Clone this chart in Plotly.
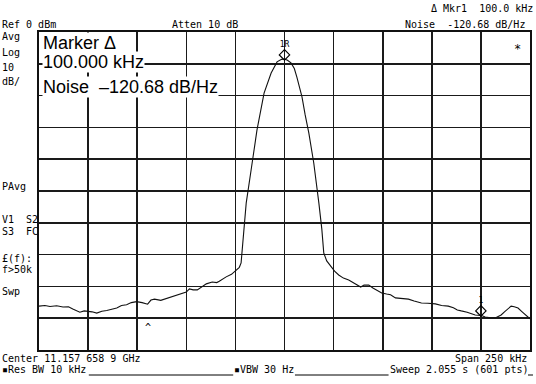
import plotly.graph_objects as go

# ---- data (offset from centre, kHz ; level, dBm) ----
freq_khz = [-125, -122, -119.4, -116, -112.8, -110, -107.8, -105.5, -104.2, -102, -100.2, -98,
            -95.6, -93, -90.5, -88, -85.4, -83, -80.4, -78, -75.3, -72.5, -69.7, -68, -66.2,
            -63, -60.5, -58.6, -55, -52.0, -50, -48.4, -46.5, -44.4, -42, -39.8, -36.8, -34.5,
            -33.2, -31, -29.7, -27, -24.6, -23, -22.1, -21.6, -20.5, -19.5, -17.0, -14.0, -10.4,
            -6.8, -3.8, -1.5, 0, 1.5, 3.3, 5, 6.3, 8.9, 10.5, 12.4, 14.9, 15.9, 17.5, 19, 20.0,
            21.5, 23.6, 25.5, 27.6, 30, 32.7, 35, 38.8, 40.5, 42.9, 45, 47, 49.5, 52, 54, 56.5,
            60, 63.1, 66, 69.7, 73, 76.8, 80, 83.4, 86, 88, 90.0, 93, 97.1, 100, 102.2, 105,
            107.3, 110.3, 112, 114, 115.4, 117, 118.9, 121, 123, 125]
level_dbm = [-86.2, -86.0, -86.3, -86.1, -86.5, -86.4, -87.1, -87.9, -88.1, -87.7, -87.8, -88.0,
             -88.4, -87.8, -87.6, -87.2, -86.8, -86.0, -85.8, -85.1, -84.8, -85.1, -85.6, -84.3, -84.0,
             -84.4, -83.9, -83.6, -82.9, -82.1, -81.8, -80.8, -81.1, -81.1, -80.2, -79.2, -78.6, -78.8,
             -78.4, -77.5, -77.0, -76.2, -74.8, -74.0, -72.6, -68.6, -62.0, -53.8, -43.4, -30.8, -19.2,
             -12.9, -9.4, -8.6, -8.5, -8.9, -9.7, -11.5, -14.2, -20.4, -26.0, -31.8, -41.2, -45.6, -53.8, -62.0, -69.5,
             -72.0, -73.9, -75.2, -76.4, -77.4, -78.0, -78.9, -80.2, -79.6, -79.6, -80.5, -81.3, -82.1, -82.4, -82.6, -83.6,
             -83.8, -84.0, -84.6, -85.2, -85.3, -85.5, -86.0, -86.2, -86.7, -87.4, -87.7, -88.1, -89.0, -89.1, -89.6, -89.9,
             -89.9, -89.0, -88.0, -86.8, -86.2, -86.4, -86.8, -88.0, -89.2, -90.2]

marker_khz = [0, 100]
marker_dbm = [-7.2, -87.7]
marker_labels = ["1R", "1"]

x_range = [-125, 125]
y_range = [-100, 0]

# ---- figure geometry helpers (pixels -> paper) ----
L, R, T, B = 39, 532, 32, 350
def px(x):
    return (x - L) / (R - L)
def py(y):
    return (B - y) / (B - T)

MONO = "DejaVu Sans Mono"
SANS = "Liberation Sans"

fig = go.Figure()
fig.add_trace(go.Scatter(x=freq_khz, y=level_dbm, mode="lines",
                         line=dict(color="#111111", width=1.1), hoverinfo="skip"))
fig.add_trace(go.Scatter(x=marker_khz, y=marker_dbm, mode="markers+text",
                         text=marker_labels, textposition="top center",
                         textfont=dict(family=MONO, size=8, color="#000000"),
                         marker=dict(symbol="diamond-open", size=8, color="#000000",
                                     line=dict(width=1.2, color="#000000")),
                         hoverinfo="skip"))

ann = []
def text(s, x, y, anchor="left", size=10, family=MONO, bg=None):
    d = dict(text=s, x=px(x), y=py(y), xref="paper", yref="paper", showarrow=False,
             xanchor=anchor, yanchor="middle", font=dict(family=family, size=size, color="black"),
             borderpad=0)
    if bg:
        d["bgcolor"] = bg
    ann.append(d)

text("Ref 0 dBm", 1, 24)
text("Atten 10 dB", 172, 24)
text("Δ Mkr1  100.0 kHz", 536, 9, anchor="right")
text("Noise  -120.68 dB/Hz", 528, 24.5, anchor="right")
text("Avg", 1, 36.5)
text("Log", 1, 52.5)
text("10", 1, 67)
text("dB/", 1, 82)
text("PAvg", 1, 186)
text("V1  S2", 1, 219)
text("S3  FC", 1, 231)
text("£(f):", 1, 258)
text("f>50k", 1, 269)
text("Swp", 1, 291)
text("Center 11.157 658 9 GHz", 1, 358)
text("Span 250 kHz", 530, 358, anchor="right")
text("▪Res BW 10 kHz", 1, 369)
text("▪VBW 30 Hz", 234, 369)
text("Sweep 2.055 s (601 pts)", 390, 369)
text("*", 519, 49, anchor="center", size=12)
text("^", 148, 327, anchor="center", size=10)

text("Marker Δ", 42, 43, size=18, family=SANS, bg="white")
text("100.000 kHz", 42, 61.5, size=18, family=SANS, bg="white")
text("Noise  –120.68 dB/Hz", 42, 86.5, size=18, family=SANS, bg="white")

shapes = []
for x0, x1 in [(89, 234), (296, 390), (530, 535)]:
    shapes.append(dict(type="line", xref="paper", yref="paper", x0=px(x0), x1=px(x1),
                       y0=py(375), y1=py(375), line=dict(color="black", width=1)))

axis_common = dict(showgrid=True, gridcolor="#1a1a1a", gridwidth=1.6, zeroline=False,
                   showticklabels=False, ticks="", showline=True, mirror=True,
                   linecolor="#111111", linewidth=2)

fig.update_layout(
    width=536, height=384,
    margin=dict(l=L, r=536 - R, t=T, b=384 - B),
    paper_bgcolor="white", plot_bgcolor="white",
    showlegend=False, hovermode=False,
    xaxis=dict(range=x_range, dtick=25, tick0=-125, **axis_common),
    yaxis=dict(range=y_range, dtick=10, tick0=-100, **axis_common),
    annotations=ann, shapes=shapes,
)

fig.write_html("out.html", config={"displayModeBar": False, "staticPlot": True},
               post_script="document.body.style.margin='0';document.body.style.overflow='hidden';")
